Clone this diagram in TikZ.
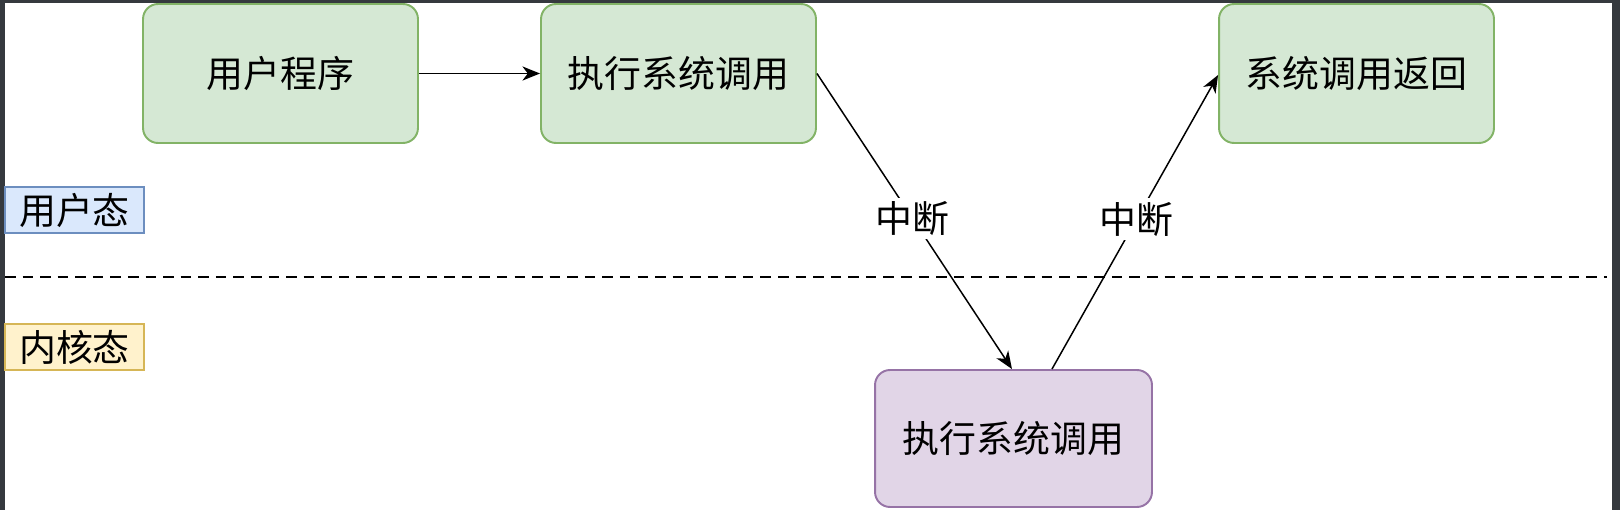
\documentclass[tikz,border=0pt]{standalone}
\usepackage{fontspec}
\newfontfamily\cjk{Noto Sans CJK SC}
\usetikzlibrary{arrows.meta}
\definecolor{gfill}{HTML}{D5E8D4}
\definecolor{gline}{HTML}{82B366}
\definecolor{pfill}{HTML}{E1D5E7}
\definecolor{pline}{HTML}{9673A6}
\definecolor{bfill}{HTML}{DAE8FC}
\definecolor{bline}{HTML}{6C8EBF}
\definecolor{yfill}{HTML}{FFF2CC}
\definecolor{yline}{HTML}{D6B656}
\definecolor{frame}{HTML}{35393E}
\tikzset{
  cjktext/.style={font=\cjk\fontsize{21}{25}\selectfont},
  stepbox/.style={cjktext,draw=#1line,fill=#1fill,line width=1.1pt,rounded corners=0.3cm,
    minimum width=5.5cm,minimum height=2.78cm,inner sep=0pt},
  tagbox/.style={cjktext,draw=#1line,fill=#1fill,line width=1pt,
    minimum width=2.78cm,minimum height=0.92cm,inner sep=0pt},
  flow/.style={-{Stealth[length=10pt,width=8pt,inset=3pt]},line width=0.85pt},
  cut/.style={cjktext,fill=white,inner sep=2pt}
}
\begin{document}
\begin{tikzpicture}[x=0.02cm,y=-0.02cm]
\useasboundingbox (0,0) rectangle (1620,510);
\fill[white] (0,0) rectangle (1620,510);
% window edges
\fill[frame] (0,0) rectangle (1620,3);
\fill[frame] (0,0) rectangle (5,510);
\fill[frame] (1612,0) rectangle (1620,510);
% user / kernel border
\draw[dash pattern=on 6pt off 4pt,line width=0.9pt] (5,277) -- (1607,277);
\node[tagbox=b] (user) at (74.5,210) {用户态};
\node[tagbox=y] (kern) at (74.5,347) {内核态};
% boxes
\node[stepbox=g] (prog) at (280.5,73.5) {用户程序};
\node[stepbox=g] (call) at (678.5,73.5) {执行系统调用};
\node[stepbox=g] (back) at (1356.5,73.5) {系统调用返回};
\node[stepbox=p,minimum width=5.54cm,minimum height=2.74cm] (exec) at (1013.5,438.5) {执行系统调用};
\coordinate (in) at ([xshift=-0.03cm]exec.north);
\coordinate (out) at ([xshift=0.77cm]exec.north);
\coordinate (ret) at ([yshift=-0.03cm]back.west);
% arrows
\draw[flow] (prog) -- (call);
\draw[flow] (call.east) -- (in) node[cut,pos=0.49] (int1) {中断};
\draw[flow] (out) -- (ret) node[cut,pos=0.51] (int2) {中断};
\end{tikzpicture}
\end{document}
